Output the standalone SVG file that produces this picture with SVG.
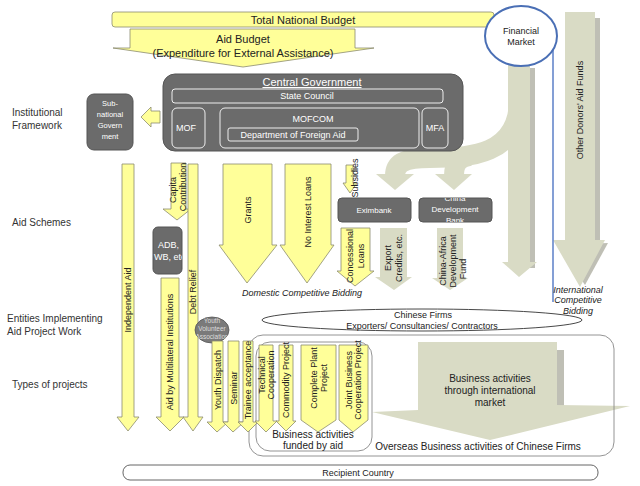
<svg xmlns="http://www.w3.org/2000/svg" width="640" height="486" viewBox="0 0 640 486">
<style>
text{font-family:"Liberation Sans",Arial,sans-serif;fill:#222}
.lbl{font-size:10px;fill:#333}
.y{fill:#FFFF99;stroke:#8c8c70;stroke-width:0.8}
.g{fill:#D9DBC5;stroke:none}
.gs{fill:#BFBFB5}
.dk{fill:#6B6B6B;stroke:#555;stroke-width:1}
.wl{fill:none;stroke:#eee;stroke-width:1}
.vt{font-size:9px;text-anchor:middle;dominant-baseline:central}
.it{font-style:italic;font-size:9px;text-anchor:middle}
.c{text-anchor:middle}
</style>
<defs>
<clipPath id="cpAdb"><rect x="153" y="227" width="29" height="47"/></clipPath>
<clipPath id="cpCdb"><rect x="419" y="198" width="73" height="24"/></clipPath>
<clipPath id="cpYv"><ellipse cx="212" cy="330" rx="17" ry="13"/></clipPath>
</defs>

<rect width="640" height="486" fill="#fff"/>

<g id="row-labels">
<text class="lbl" x="12" y="116">Institutional</text>
<text class="lbl" x="12" y="129">Framework</text>
<text class="lbl" x="12" y="226">Aid Schemes</text>
<text class="lbl" x="7" y="322">Entities Implementing</text>
<text class="lbl" x="7" y="335">Aid Project Work</text>
<text class="lbl" x="12" y="388">Types of projects</text>
</g>

<g id="connectors">
<g id="intl-market">
<rect class="gs" x="557" y="350" width="7" height="56"/>
<polygon class="g" points="418,342 557,342 557,405 630,406 490,440 372,412 418,410"/>
<text class="c" font-size="10" x="490" y="382">Business activities</text>
<text class="c" font-size="10" x="490" y="394">through international</text>
<text class="c" font-size="10" x="490" y="406">market</text>
</g>
<g id="fm-arrow">
<rect class="gs" x="530" y="68" width="5" height="200"/>
<path d="M519,100 C519,155 470,158 430,158 C402,158 395,164 395,176" fill="none" stroke="#D9DBC5" stroke-width="20"/>
<path d="M470,156 C458,158 454,164 454,176" fill="none" stroke="#D9DBC5" stroke-width="20"/>
<polygon class="g" points="376,174 414,174 395,190"/>
<polygon class="g" points="435,174 472,174 454,190"/>
<polygon class="g" points="508,64 530,64 530,262 537,262 519,277 502,262 508,262"/>
</g>
<g id="other-donors">
<rect class="gs" x="595" y="18" width="5" height="225"/>
<polygon class="gs" points="558,245 608,243 585,285"/>
<polygon class="g" points="565,12 595,12 595,240 605,240 580,287 553,240 565,240"/>
<text class="vt" transform="rotate(-90 580 110)" x="580" y="110">Other Donors' Aid Funds</text>
</g>
<line x1="553" y1="22" x2="553" y2="302" stroke="#5B7FC7" stroke-width="1.5"/>
<polygon id="arrow-subnational" points="141,117 151,107 151,111 160,111 160,123 151,123 151,127" fill="#FFFF99" stroke="#8c8c70" stroke-width="0.8"/>
</g>

<g id="total-budget">
<rect class="y" x="112" y="12" width="382" height="15" rx="3"/>
<text class="c" font-size="11" x="303" y="24">Total National Budget</text>
</g>
<g id="aid-budget">
<polygon class="y" points="130,29 355,29 355,48 374,48 243,67 113,48 130,48"/>
<text class="c" font-size="11" x="243" y="43">Aid Budget</text>
<text class="c" font-size="11" x="243" y="57">(Expenditure for External Assistance)</text>
</g>
<g id="financial-market">
<ellipse cx="521" cy="36" rx="36" ry="30" fill="#fff" stroke="#4A6FB5" stroke-width="2"/>
<text class="c" font-size="9" x="521" y="34">Financial</text>
<text class="c" font-size="9" x="521" y="45">Market</text>
</g>

<g id="central-government">
<rect class="dk" x="163" y="74" width="300" height="77" rx="12"/>
<text class="c" style="fill:#fff" font-size="11" x="312" y="86" text-decoration="underline">Central Government</text>
<rect class="wl" x="172" y="89" width="271" height="14" rx="3"/>
<text class="c" style="fill:#fff" font-size="9" x="307" y="99">State Council</text>
<g id="mof"><rect class="wl" x="172" y="108" width="33" height="40" rx="5"/><text class="c" style="fill:#fff" font-size="9" x="186" y="131">MOF</text></g>
<g id="mofcom"><rect class="wl" x="220" y="108" width="199" height="40" rx="5"/><text class="c" style="fill:#fff" font-size="9" x="313" y="122">MOFCOM</text>
<rect class="wl" x="228" y="128" width="130" height="13" rx="2"/><text class="c" style="fill:#fff" font-size="9" x="293" y="138">Department of Foreign Aid</text></g>
<g id="mfa"><rect class="wl" x="422" y="108" width="26" height="40" rx="5"/><text class="c" style="fill:#fff" font-size="9" x="435" y="131">MFA</text></g>
</g>
<g id="subnational">
<rect class="dk" x="87" y="94" width="46" height="56" rx="7"/>
<text class="c" style="fill:#fff" font-size="7.5" x="110" y="106">Sub-</text>
<text class="c" style="fill:#fff" font-size="7.5" x="110" y="117">national</text>
<text class="c" style="fill:#fff" font-size="7.5" x="110" y="128">Govern</text>
<text class="c" style="fill:#fff" font-size="7.5" x="110" y="139">ment</text>
</g>

<g id="independent-aid">
<polygon class="y" points="122,164 134,164 134,417 139,417 128,431 117,417 122,417"/>
<text class="vt" font-size="10" transform="rotate(-90 128 300)" x="128" y="300">Independent Aid</text>
</g>
<g id="capita-contribution">
<polygon class="y" points="171,163 186,163 186,209 191,209 177,220 163,209 171,209"/>
<text class="vt" transform="rotate(-90 173 190)" x="173" y="190" font-size="9">Capita</text>
<text class="vt" transform="rotate(-90 183 187)" x="183" y="187" font-size="9">Contribution</text>
</g>
<g id="adb">
<rect class="dk" x="153" y="227" width="29" height="47" rx="5"/>
<g clip-path="url(#cpAdb)">
<text style="fill:#fff" font-size="9" x="158" y="248">ADB,</text>
<text style="fill:#fff" font-size="9" x="154" y="260">WB, etc.</text>
</g>
</g>
<g id="multilateral">
<polygon class="y" points="161,278 179,278 179,417 184,417 170,431 156,417 161,417"/>
<text class="vt" font-size="9.5" transform="rotate(-90 170 352)" x="170" y="352">Aid by Multilateral Institutions</text>
</g>
<g id="debt-relief">
<polygon class="y" points="188,164 198,164 198,417 203,417 193,431 183,417 188,417"/>
<text class="vt" transform="rotate(-90 193 292)" x="193" y="292">Debt Relief</text>
</g>

<g id="grants">
<polygon class="y" points="223,164 272,164 272,245 277,245 247,283 219,245 223,245"/>
<text class="vt" font-size="11" transform="rotate(-90 248 210)" x="248" y="210">Grants</text>
</g>
<g id="no-interest">
<polygon class="y" points="285,164 331,164 331,245 334,245 307,283 280,245 285,245"/>
<text class="vt" font-size="10" transform="rotate(-90 308 212)" x="308" y="212">No Interest Loans</text>
</g>
<g id="subsidies">
<polygon class="y" points="346,165 353,165 353,183 357,183 350,193 343,183 346,183"/>
<text class="vt" font-size="6" transform="rotate(-90 355 178)" x="355" y="178">Subsidies</text>
</g>
<text class="it" x="302" y="296">Domestic Competitive Bidding</text>

<g id="eximbank">
<rect class="dk" x="338" y="198" width="73" height="24" rx="4"/>
<text class="c" style="fill:#fff" font-size="8" x="374" y="213">Eximbank</text>
</g>
<g id="cdb">
<rect class="dk" x="419" y="198" width="73" height="24" rx="4"/>
<g clip-path="url(#cpCdb)">
<text class="c" style="fill:#fff" font-size="8" x="455" y="201">China</text>
<text class="c" style="fill:#fff" font-size="8" x="455" y="212">Development</text>
<text class="c" style="fill:#fff" font-size="8" x="455" y="223">Bank</text>
</g>
</g>
<g id="concessional">
<polygon class="y" points="341,228 370,228 370,271 374,271 355,286 337,271 341,271"/>
<text class="vt" font-size="9" transform="rotate(-90 350 256)" x="350" y="256">Concessional</text>
<text class="vt" font-size="9" transform="rotate(-90 361 256)" x="361" y="256">Loans</text>
</g>
<g id="export-credits">
<polygon class="g" points="380,228 407,228 407,277 412,277 394,290 375,277 380,277"/>
<text class="vt" font-size="9" transform="rotate(-90 388 258)" x="388" y="258">Export</text>
<text class="vt" font-size="9" transform="rotate(-90 399 258)" x="399" y="258">Credits, etc.</text>
</g>
<g id="cad-fund">
<polygon class="g" points="437,228 463,228 463,278 468,278 450,290 432,278 437,278"/>
<text class="vt" font-size="9" transform="rotate(-90 443 261)" x="443" y="261">China-Africa</text>
<text class="vt" font-size="9" transform="rotate(-90 453 261)" x="453" y="261">Development</text>
<text class="vt" font-size="9" transform="rotate(-90 463 269)" x="463" y="269">Fund</text>
</g>
<g id="intl-bidding">
<text class="it" x="578" y="293">International</text>
<text class="it" x="578" y="303">Competitive</text>
<text class="it" x="578" y="314">Bidding</text>
</g>

<g id="chinese-firms">
<ellipse cx="422" cy="320" rx="160" ry="11" fill="none" stroke="#333" stroke-width="0.9"/>
<text class="c" font-size="9" x="423" y="318">Chinese Firms</text>
<text class="c" font-size="9" x="422" y="329">Exporters/ Consultancies/ Contractors</text>
</g>

<g id="overseas">
<rect x="249" y="335" width="365" height="121" rx="14" fill="none" stroke="#888" stroke-width="0.9"/>
<text class="c" font-size="10" x="478" y="450">Overseas Business activities of Chinese Firms</text>
</g>
<g id="funded-by-aid">
<rect x="256" y="342" width="116" height="109" rx="14" fill="none" stroke="#888" stroke-width="0.9"/>
<text class="c" font-size="10" x="313" y="438">Business activities</text>
<text class="c" font-size="10" x="313" y="449">funded by aid</text>
</g>

<g id="youth-volunteer">
<ellipse cx="212" cy="330" rx="17" ry="13" fill="#7A7A7A" stroke="#555" stroke-width="0.8"/>
<g clip-path="url(#cpYv)">
<text class="c" style="fill:#ddd" font-size="6.5" x="212" y="323">Youth</text>
<text class="c" style="fill:#ddd" font-size="6.5" x="212" y="331">Volunteer</text>
<text class="c" style="fill:#ddd" font-size="6.5" x="212" y="339">Association</text>
</g>
</g>

<g id="youth-dispatch">
<polygon class="y" points="212,341 223,341 223,422 228,422 217,432 207,422 212,422"/>
<text class="vt" font-size="8" transform="rotate(-90 218 380)" x="218" y="380">Youth Dispatch</text>
</g>
<g id="seminar">
<polygon class="y" points="228,341 239,341 239,422 244,422 233,432 223,422 228,422"/>
<text class="vt" font-size="8" transform="rotate(-90 234 388)" x="234" y="388">Seminar</text>
</g>
<g id="trainee">
<polygon class="y" points="243,341 253,341 253,422 258,422 248,432 238,422 243,422"/>
<text class="vt" font-size="8" transform="rotate(-90 248 380)" x="248" y="380">Trainee acceptance</text>
</g>
<g id="technical">
<polygon class="y" points="259,345 273,345 273,421 277,421 266,432 255,421 259,421"/>
<text class="vt" font-size="8" transform="rotate(-90 262 375)" x="262" y="375">Technical</text>
<text class="vt" font-size="8" transform="rotate(-90 271 375)" x="271" y="375">Cooperation</text>
</g>
<g id="commodity">
<polygon class="y" points="279,345 293,345 293,421 296,421 286,431 276,421 279,421"/>
<text class="vt" font-size="8" transform="rotate(-90 286 380)" x="286" y="380">Commodity Project</text>
</g>
<g id="complete-plant">
<polygon class="y" points="301,345 336,345 336,420 318,432 301,420"/>
<text class="vt" font-size="8" transform="rotate(-90 314 378)" x="314" y="378">Complete Plant</text>
<text class="vt" font-size="8" transform="rotate(-90 324 378)" x="324" y="378">Project</text>
</g>
<g id="joint-business">
<polygon class="y" points="339,345 368,345 368,420 353,432 339,420"/>
<text class="vt" font-size="7.5" transform="rotate(-90 349 380)" x="349" y="380">Joint Business</text>
<text class="vt" font-size="7.5" transform="rotate(-90 358 380)" x="358" y="380">Cooperation Project</text>
</g>

<g id="recipient">
<rect x="123" y="465" width="475" height="15" rx="7" fill="#fff" stroke="#555" stroke-width="0.9"/>
<text class="c" font-size="9" x="358" y="476">Recipient Country</text>
</g>
</svg>
